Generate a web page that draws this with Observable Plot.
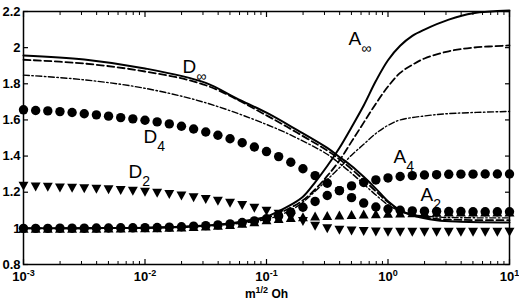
<!DOCTYPE html>
<html>
<head>
<meta charset="utf-8">
<script src="https://cdn.jsdelivr.net/npm/d3@7"></script>
<script src="https://cdn.jsdelivr.net/npm/@observablehq/plot@0.6"></script>
<style>
  body { margin: 0; background: #fff; }
</style>
</head>
<body>
<div id="chart"></div>
<script>
// Marker sample points: exponents of m^{1/2} Oh (x = 10^e)
const markerExp = [-3, -2.9, -2.8, -2.7, -2.6, -2.5, -2.4, -2.3, -2.2, -2.1,
  -2, -1.9, -1.8, -1.7, -1.6, -1.5, -1.4, -1.3, -1.2, -1.1,
  -1, -0.9, -0.8, -0.7, -0.6, -0.5, -0.4, -0.3, -0.2, -0.1,
  0, 0.1, 0.2, 0.3, 0.4, 0.5, 0.6, 0.7, 0.8, 0.9, 1];

// Marker series
const d4 = [1.656, 1.652, 1.650, 1.646, 1.641, 1.634, 1.628, 1.621, 1.613, 1.606,
  1.598, 1.589, 1.578, 1.565, 1.550, 1.533, 1.515, 1.496, 1.474, 1.450,
  1.425, 1.397, 1.366, 1.330, 1.292, 1.250, 1.209, 1.170, 1.140, 1.118,
  1.107, 1.100, 1.097, 1.095, 1.094, 1.093, 1.093, 1.092, 1.092, 1.092, 1.092];
const d2 = [1.233, 1.229, 1.227, 1.224, 1.222, 1.219, 1.216, 1.213, 1.209, 1.205,
  1.200, 1.194, 1.187, 1.179, 1.170, 1.160, 1.150, 1.139, 1.126, 1.111,
  1.095, 1.078, 1.060, 1.038, 1.012, 0.998, 0.990, 0.985, 0.982, 0.980,
  0.979, 0.978, 0.978, 0.978, 0.978, 0.978, 0.978, 0.978, 0.978, 0.978, 0.978];
const a4 = [1.000, 1.000, 1.000, 1.001, 1.001, 1.001, 1.002, 1.002, 1.003, 1.003,
  1.004, 1.005, 1.007, 1.009, 1.012, 1.015, 1.019, 1.025, 1.032, 1.041,
  1.053, 1.068, 1.089, 1.117, 1.149, 1.182, 1.209, 1.235, 1.254, 1.268,
  1.279, 1.287, 1.292, 1.295, 1.297, 1.299, 1.300, 1.300, 1.301, 1.301, 1.301];
const a2 = [1.000, 1.000, 1.000, 1.000, 1.001, 1.001, 1.001, 1.002, 1.002, 1.003,
  1.003, 1.004, 1.006, 1.008, 1.010, 1.013, 1.017, 1.022, 1.028, 1.037,
  1.047, 1.055, 1.060, 1.064, 1.068, 1.071, 1.074, 1.077, 1.079, 1.081,
  1.083, 1.085, 1.087, 1.088, 1.089, 1.090, 1.090, 1.090, 1.091, 1.091, 1.091];

// Curves (exponent, value)
const dSolidExp = [-3, -2.5, -2, -1.5, -1.25, -1, -0.75, -0.5, -0.4, -0.3, -0.2, -0.1, 0, 0.1, 0.2, 0.4, 0.6, 1];
const dSolid = [1.957, 1.935, 1.885, 1.805, 1.72, 1.64, 1.545, 1.445, 1.395, 1.345, 1.285, 1.22, 1.15, 1.10, 1.072, 1.045, 1.037, 1.033];
const dDashExp = [-3, -2.5, -2, -1.5, -1, -0.75, -0.5, -0.4, -0.3, -0.2, -0.1, 0, 0.1, 0.2, 0.4, 0.6, 1];
const dDash = [1.933, 1.912, 1.868, 1.792, 1.625, 1.53, 1.43, 1.382, 1.328, 1.268, 1.205, 1.145, 1.10, 1.075, 1.053, 1.047, 1.045];
const dDotExp = [-3, -2.5, -2, -1.5, -1, -0.75, -0.5, -0.4, -0.3, -0.2, -0.1, 0, 0.1, 0.2, 0.4, 0.6, 1];
const dDot = [1.848, 1.822, 1.775, 1.695, 1.575, 1.50, 1.41, 1.36, 1.305, 1.245, 1.185, 1.13, 1.095, 1.077, 1.063, 1.059, 1.058];

const aSolidExp = [-3, -2.5, -2, -1.5, -1.25, -1, -0.9, -0.8, -0.7, -0.6, -0.5, -0.4, -0.3, -0.2, -0.1, 0, 0.1, 0.2, 0.3, 0.5, 0.7, 1];
const aSolid = [1.0, 1.001, 1.004, 1.016, 1.033, 1.065, 1.095, 1.13, 1.175, 1.255, 1.345, 1.445, 1.56, 1.68, 1.815, 1.93, 2.01, 2.065, 2.10, 2.155, 2.19, 2.205];
const aDashExp = [-3, -2, -1.5, -1, -0.8, -0.7, -0.6, -0.5, -0.4, -0.3, -0.2, -0.1, 0, 0.1, 0.2, 0.3, 0.5, 0.7, 1];
const aDash = [1.0, 1.003, 1.014, 1.058, 1.115, 1.155, 1.215, 1.29, 1.375, 1.48, 1.585, 1.69, 1.785, 1.86, 1.905, 1.94, 1.98, 2.0, 2.012];
const aDotExp = [-3, -2, -1.5, -1, -0.8, -0.7, -0.6, -0.5, -0.4, -0.3, -0.2, -0.1, 0, 0.1, 0.3, 0.5, 1];
const aDot = [1.0, 1.003, 1.013, 1.05, 1.10, 1.145, 1.205, 1.27, 1.335, 1.405, 1.465, 1.525, 1.57, 1.60, 1.622, 1.635, 1.647];

// Curve labels ("_" marks the subscript)
const labelText = ["D_∞", "D_4", "D_2", "A_∞", "A_4", "A_2"];
const labelX = [0.0204, 0.00973, 0.00731, 0.473, 1.109, 1.85];
const labelY = [1.862, 1.475, 1.276, 2.012, 1.364, 1.154];

// Axis ticks
const xMajor = [1e-3, 1e-2, 1e-1, 1, 10];
const xMinor = xMajor.slice(0, -1).flatMap(t => [2, 3, 4, 5, 6, 7, 8, 9].map(k => k * t));
const yTicks = [0.8, 1, 1.2, 1.4, 1.6, 1.8, 2, 2.2];
const xTitle = "m^1/2 Oh";

const pts = (exps, vals) => exps.map((e, i) => ({x: 10 ** e, y: vals[i]}));
const markers = vals => markerExp.map((e, i) => ({x: 10 ** e, y: vals[i]}));
const labels = labelText.map((t, i) => ({t, x: labelX[i], y: labelY[i]}));

// Filled triangle symbols, centered on their bounding box
const triDown = {draw(ctx, size) {
  const r = Math.sqrt(size / Math.PI);
  ctx.moveTo(-1.1 * r, -r); ctx.lineTo(1.1 * r, -r); ctx.lineTo(0, r); ctx.closePath();
}};
const triUp = {draw(ctx, size) {
  const r = Math.sqrt(size / Math.PI);
  ctx.moveTo(-1.1 * r, r); ctx.lineTo(1.1 * r, r); ctx.lineTo(0, -r); ctx.closePath();
}};

const solid = {x: "x", y: "y", curve: "catmull-rom", stroke: "#000", strokeWidth: 2};
const dashed = {...solid, strokeWidth: 1.8, strokeDasharray: "7,3.5"};
const dashDot = {...solid, strokeWidth: 1.4, strokeDasharray: "6,2.5,1.5,2.5"};
const blank = () => "";

const plot = Plot.plot({
  width: 519,
  height: 300,
  marginLeft: 23,
  marginRight: 10,
  marginTop: 11,
  marginBottom: 36,
  x: {type: "log", domain: [1e-3, 10]},
  y: {domain: [0.8, 2.2]},
  style: {fontFamily: "'Liberation Sans', Arial, sans-serif", fontSize: "12px", color: "#000", background: "#fff"},
  marks: [
    Plot.line(pts(dSolidExp, dSolid), solid),
    Plot.line(pts(dDashExp, dDash), dashed),
    Plot.line(pts(dDotExp, dDot), dashDot),
    Plot.line(pts(aSolidExp, aSolid), solid),
    Plot.line(pts(aDashExp, aDash), dashed),
    Plot.line(pts(aDotExp, aDot), dashDot),
    Plot.dot(markers(d2), {x: "x", y: "y", symbol: triDown, r: 4.5, fill: "#000", stroke: "none"}),
    Plot.dot(markers(a2), {x: "x", y: "y", symbol: triUp, r: 4.5, fill: "#000", stroke: "none"}),
    Plot.dot(markers(d4), {x: "x", y: "y", r: 4.7, fill: "#000", stroke: "none"}),
    Plot.dot(markers(a4), {x: "x", y: "y", r: 4.7, fill: "#000", stroke: "none"}),
    Plot.frame({stroke: "#000", strokeWidth: 1.5}),
    Plot.axisY(yTicks, {anchor: "left", tickSize: -5, tickPadding: 8, tickFormat: d => String(d), fontWeight: "bold", fontSize: 13, label: null, strokeWidth: 1.2}),
    Plot.axisY(yTicks, {anchor: "right", tickSize: -5, tickFormat: blank, label: null, strokeWidth: 1.2}),
    Plot.axisX(xMajor, {anchor: "bottom", tickSize: -5, tickPadding: 12, tickFormat: d => "10^" + Math.round(Math.log10(d)), fontWeight: "bold", fontSize: 13, label: null, strokeWidth: 1.2}),
    Plot.axisX(xMinor, {anchor: "bottom", tickSize: -3, tickFormat: blank, label: null}),
    Plot.axisX(xMajor, {anchor: "top", tickSize: -5, tickFormat: blank, label: null, strokeWidth: 1.2}),
    Plot.axisX(xMinor, {anchor: "top", tickSize: -3, tickFormat: blank, label: null}),
    Plot.text(labels, {x: "x", y: "y", text: "t", textAnchor: "start", lineAnchor: "bottom", fontSize: 19}),
    Plot.text([xTitle], {frameAnchor: "bottom", dy: 33, lineAnchor: "bottom", fontWeight: "bold"})
  ]
});

// Turn "a^b rest" into a superscript and "a_b" into a subscript
d3.select(plot).selectAll("text").each(function() {
  const s = this.textContent;
  const sel = d3.select(this);
  let m;
  if ((m = s.match(/^([^\^]*)\^(\S+)(.*)$/))) {
    sel.text(null);
    sel.append("tspan").text(m[1]);
    sel.append("tspan").attr("dy", -5).attr("font-size", "9px").text(m[2]);
    if (m[3]) sel.append("tspan").attr("dy", 5).text(m[3]);
  } else if ((m = s.match(/^([^_]*)_(.+)$/))) {
    sel.text(null);
    sel.append("tspan").text(m[1]);
    sel.append("tspan").attr("dy", 8).attr("font-size", "14px").text(m[2]);
  }
});

document.getElementById("chart").appendChild(plot);
</script>
</body>
</html>
